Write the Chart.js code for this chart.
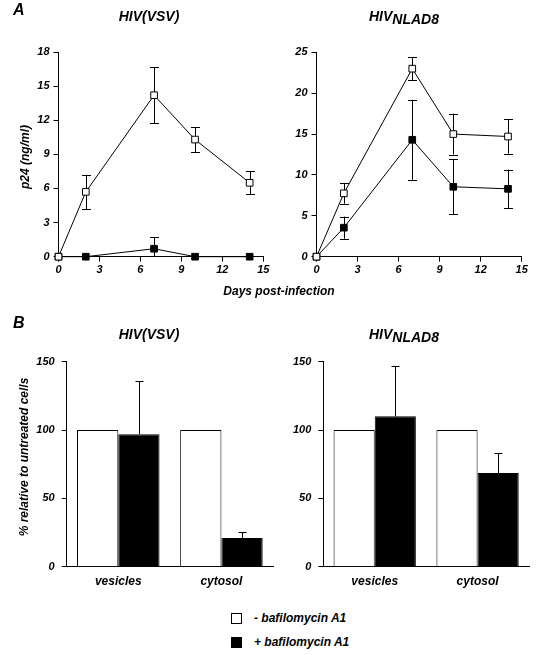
<!DOCTYPE html>
<html><head><meta charset="utf-8">
<script src="https://cdn.jsdelivr.net/npm/chart.js@4.4.1/dist/chart.umd.min.js"></script>
<style>
html,body{margin:0;padding:0;background:#fff;}
#wrap{position:relative;width:536px;height:655px;overflow:hidden;font-family:"Liberation Sans",Arial,sans-serif;font-weight:bold;font-style:italic;color:#000;}
canvas{position:absolute;}
.t{position:absolute;white-space:nowrap;line-height:1;}
.rot{transform:translate(-50%,-50%) rotate(-90deg);}
.sq{position:absolute;width:9px;height:9px;border:1px solid #000;}
</style></head><body>
<div id="wrap">
<canvas id="cA1" width="272" height="300" style="left:0;top:0"></canvas>
<canvas id="cA2" width="270" height="300" style="left:266px;top:0"></canvas>
<canvas id="cB1" width="280" height="290" style="left:0;top:320px"></canvas>
<canvas id="cB2" width="260" height="290" style="left:276px;top:320px"></canvas>

<div class="t" style="left:13px;top:2px;font-size:16px">A</div>
<div class="t" style="left:49px;top:9px;width:200px;text-align:center;font-size:14px">HIV(VSV)</div>
<div class="t" style="left:304px;top:9px;width:200px;text-align:center;font-size:14px">HIV<span style="position:relative;top:3px">NLAD8</span></div>
<div class="t rot" style="left:25px;top:157px;font-size:12px">p24 (ng/ml)</div>
<div class="t" style="left:179px;top:285px;width:200px;text-align:center;font-size:12px">Days post-infection</div>

<div class="t" style="left:13px;top:315px;font-size:16px">B</div>
<div class="t" style="left:49px;top:327px;width:200px;text-align:center;font-size:14px">HIV(VSV)</div>
<div class="t" style="left:304px;top:327px;width:200px;text-align:center;font-size:14px">HIV<span style="position:relative;top:3px">NLAD8</span></div>
<div class="t rot" style="left:24px;top:457px;font-size:12px">% relative to untreated cells</div>

<div class="sq" style="left:231px;top:613px;background:#fff"></div>
<div class="sq" style="left:231px;top:637px;background:#000"></div>
<div class="t" id="lg0" style="left:254px;top:612px;font-size:12px"></div>
<div class="t" id="lg1" style="left:254px;top:636px;font-size:12px"></div>
</div>
<script>
// ---- data ----
const days = [0, 2, 7, 10, 14];
const vsvMinus = [0, 5.7, 14.2, 10.3, 6.5];
const vsvMinusErr = [0, 1.5, 2.45, 1.1, 1.0];
const vsvPlus = [0, 0, 0.7, 0, 0];
const vsvPlusErr = [0, 0, 1.0, 0, 0];
const nladMinus = [0, 7.75, 23.0, 15.0, 14.7];
const nladMinusErr = [0, 1.27, 1.4, 2.5, 2.1];
const nladPlus = [0, 3.55, 14.3, 8.55, 8.3];
const nladPlusErr = [0, 1.35, 4.9, 3.35, 2.35];
const dayAxis = {max: 15, step: 3};
const vsvLineAxis = {max: 18, step: 3};
const nladLineAxis = {max: 25, step: 5};
const compartments = ['vesicles', 'cytosol'];
const vsvBarMinus = [100, 100];
const vsvBarPlus = [97, 21];
const vsvBarErr = [39, 4.5];
const nladBarMinus = [100, 100];
const nladBarPlus = [110, 68.5];
const nladBarErr = [36.5, 15];
const barAxis = {max: 150, step: 50};
const seriesLabels = ['- bafilomycin A1', '+ bafilomycin A1'];

document.getElementById('lg0').textContent = seriesLabels[0];
document.getElementById('lg1').textContent = seriesLabels[1];

const FONT = '"Liberation Sans", Arial, sans-serif';
const tickFont = {family: FONT, size: 11, weight: 'bold', style: 'italic'};
const catFont = {family: FONT, size: 12, weight: 'bold', style: 'italic'};

const lineErr = {
  id: 'lineErr',
  beforeDatasetsDraw(chart) {
    const ctx = chart.ctx, ys = chart.scales.y;
    ctx.save();
    ctx.strokeStyle = '#000'; ctx.lineWidth = 1;
    chart.data.datasets.forEach((ds, di) => {
      const meta = chart.getDatasetMeta(di);
      (ds.err || []).forEach((e, i) => {
        if (!e) return;
        const pt = meta.data[i];
        const v = ds.data[i].y;
        const hi = v + e, lo = Math.max(v - e, ys.min);
        const x = Math.round(pt.x) + 0.5;
        const yh = ys.getPixelForValue(hi), yl = ys.getPixelForValue(lo);
        ctx.beginPath();
        ctx.moveTo(x, yh); ctx.lineTo(x, yl);
        ctx.moveTo(x - 4.5, Math.round(yh) + 0.5); ctx.lineTo(x + 4.5, Math.round(yh) + 0.5);
        if (v - e >= ys.min) { ctx.moveTo(x - 4.5, Math.round(yl) + 0.5); ctx.lineTo(x + 4.5, Math.round(yl) + 0.5); }
        ctx.stroke();
      });
    });
    ctx.restore();
  }
};

const barErr = {
  id: 'barErr',
  afterDatasetsDraw(chart) {
    const ctx = chart.ctx, ys = chart.scales.y;
    ctx.save();
    ctx.strokeStyle = '#000'; ctx.lineWidth = 1;
    chart.data.datasets.forEach((ds, di) => {
      if (!ds.err) return;
      const meta = chart.getDatasetMeta(di);
      ds.err.forEach((e, i) => {
        const bar = meta.data[i];
        const x = Math.round(bar.x) + 0.5;
        const yh = Math.round(ys.getPixelForValue(ds.data[i] + e)) + 0.5;
        ctx.beginPath();
        ctx.moveTo(x, bar.y); ctx.lineTo(x, yh);
        ctx.moveTo(x - 4, yh); ctx.lineTo(x + 4, yh);
        ctx.stroke();
      });
    });
    ctx.restore();
  }
};

function axisCommon() {
  return {
    grid: {drawOnChartArea: false, color: '#000', lineWidth: 1, tickLength: 5},
    border: {color: '#000', width: 1}
  };
}

function lineChart(id, minusVals, minusErr, plusVals, plusErr, yAx, yWidth, padTop, padRight) {
  const mk = vals => days.map((d, i) => ({x: d, y: vals[i]}));
  const base = {borderColor: '#000', borderWidth: 1, pointStyle: 'rect', pointRadius: 4.7,
    pointBorderWidth: 1, pointBorderColor: '#000', clip: false, tension: 0, fill: false};
  return new Chart(document.getElementById(id), {
    type: 'line',
    data: {datasets: [
      Object.assign({label: seriesLabels[0], data: mk(minusVals), err: minusErr,
        backgroundColor: '#fff', pointBackgroundColor: '#fff'}, base),
      Object.assign({label: seriesLabels[1], data: mk(plusVals), err: plusErr,
        backgroundColor: '#000', pointBackgroundColor: '#000'}, base)
    ]},
    options: {
      responsive: false, animation: false, events: [],
      layout: {padding: {top: padTop, right: padRight, left: 0, bottom: 0}},
      plugins: {legend: {display: false}, tooltip: {enabled: false}},
      scales: {
        x: Object.assign({type: 'linear', min: 0, max: dayAxis.max,
          ticks: {stepSize: dayAxis.step, color: '#000', font: tickFont, padding: 2, maxRotation: 0},
          afterFit: s => { s.height = 43.3; }}, axisCommon()),
        y: Object.assign({min: 0, max: yAx.max,
          ticks: {stepSize: yAx.step, color: '#000', font: tickFont, padding: 4},
          afterFit: s => { s.width = yWidth; }}, axisCommon())
      }
    },
    plugins: [lineErr]
  });
}

function barChart(id, minus, plus, err, yWidth, padRight) {
  return new Chart(document.getElementById(id), {
    type: 'bar',
    data: {labels: compartments, datasets: [
      {label: seriesLabels[0], data: minus, backgroundColor: '#fff', borderColor: '#000', borderWidth: 1,
        categoryPercentage: 0.8, barPercentage: 1.0},
      {label: seriesLabels[1], data: plus, err: err, backgroundColor: '#000', borderColor: '#000', borderWidth: 1,
        categoryPercentage: 0.8, barPercentage: 1.0}
    ]},
    options: {
      responsive: false, animation: false, events: [],
      layout: {padding: {top: 41.7, right: padRight, left: 0, bottom: 0}},
      plugins: {legend: {display: false}, tooltip: {enabled: false}},
      scales: {
        x: {ticks: {color: '#000', font: catFont, padding: 8},
          grid: {drawOnChartArea: false, drawTicks: false, color: '#000'},
          border: {color: '#000', width: 1},
          afterFit: s => { s.height = 43.3; }},
        y: Object.assign({min: 0, max: barAxis.max,
          ticks: {stepSize: barAxis.step, color: '#000', font: tickFont, padding: 7},
          afterFit: s => { s.width = yWidth; }}, axisCommon())
      }
    },
    plugins: [barErr]
  });
}

lineChart('cA1', vsvMinus, vsvMinusErr, vsvPlus, vsvPlusErr, vsvLineAxis, 58.5, 52, 8.7);
lineChart('cA2', nladMinus, nladMinusErr, nladPlus, nladPlusErr, nladLineAxis, 50.5, 52.3, 14.3);
barChart('cB1', vsvBarMinus, vsvBarPlus, vsvBarErr, 66.7, 7);
barChart('cB2', nladBarMinus, nladBarPlus, nladBarErr, 47.3, 7);
</script>
</body></html>
